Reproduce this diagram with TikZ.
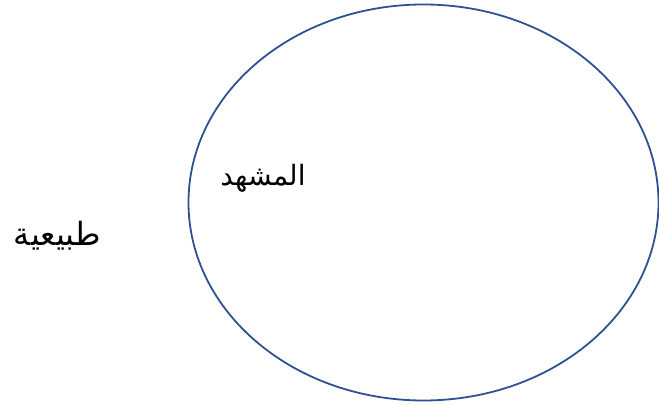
\documentclass[tikz,border=0pt]{standalone}
\usetikzlibrary{shapes.geometric}
\usepackage{fontspec}
\TeXXeTstate=1
\newfontfamily\arabicfont[Script=Arabic]{DejaVu Sans}
\definecolor{ellblue}{HTML}{2F5192}
\begin{document}
\begin{tikzpicture}[x=1pt,y=1pt,
  lbl/.style={font=\arabicfont\fontsize{28}{32}\selectfont, inner sep=0pt, anchor=base}]
\useasboundingbox (0,0) rectangle (659,406);
\node[draw=ellblue, line width=1.8pt, ellipse, minimum width=470pt, minimum height=396pt, inner sep=0pt] (scene) at (423.5,203.5) {};
\node[lbl] (mashhad) at (263,220) {\beginR المشهد\endR};
\node[lbl, font=\arabicfont\fontsize{32}{36}\selectfont] (tabiia) at (57.5,160) {\beginR طبيعية\endR};
\end{tikzpicture}
\end{document}
